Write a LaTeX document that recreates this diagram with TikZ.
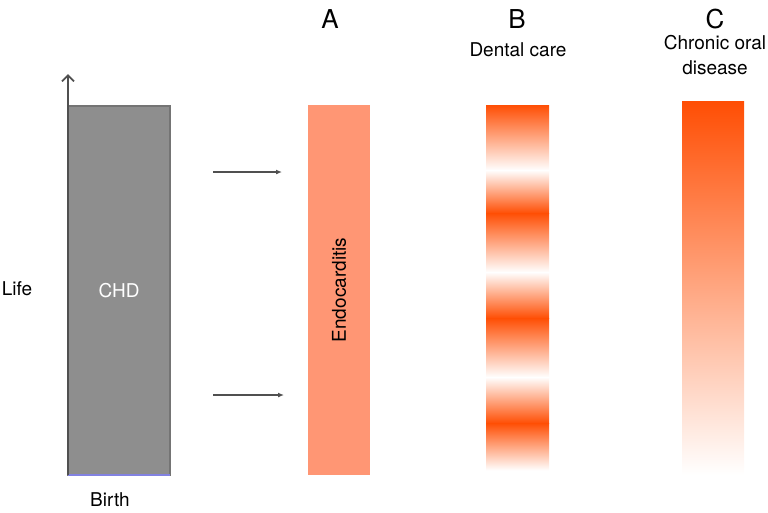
\documentclass[tikz,border=0pt]{standalone}
\usepackage{fontspec}
\setmainfont{TeX Gyre Heros}
\usetikzlibrary{arrows.meta,positioning}
\definecolor{chdgray}{RGB}{142,142,142}
\definecolor{chdedge}{RGB}{116,116,116}
\definecolor{endo}{RGB}{255,150,116}
\definecolor{oral}{RGB}{255,78,4}
\definecolor{axisgray}{RGB}{80,80,80}
\definecolor{birthline}{RGB}{130,130,225}

\tikzset{
  txt/.style={font=\fontsize{19}{25}\selectfont, inner sep=0pt, align=center},
  letter/.style={font=\fontsize{26}{30}\selectfont, inner sep=0pt},
  bar/.style={minimum width=62pt, inner sep=0pt, outer sep=0pt},
  hint/.style={draw=axisgray, line width=1.2pt, -{Latex[length=6pt,width=5pt]}}
}

\begin{document}
\begin{tikzpicture}[x=1pt,y=-1pt]
	\useasboundingbox (0,0) rectangle (768,512);

	% CHD
	\node[bar, txt, minimum width=102pt, minimum height=369pt, fill=chdgray,
		draw=chdedge, line width=1.5pt, text=white] (chd) at (119,290.5) {CHD};
	\draw[birthline, line width=1.5pt] (chd.south west) -- (chd.south east);
	\coordinate (axtop) at (68,74);
	\draw[axisgray, line width=1.8pt, -{Straight Barb[length=6pt,width=12pt]}]
		(chd.south west) -- (axtop);
	\node[txt] (life) at (17,289) {Life};
	\node[txt] (birth) at (110,500) {Birth};

	% fleches
	\coordinate (up1) at (213,172);
	\coordinate (up2) at (282,172);
	\coordinate (lo1) at (213,395);
	\coordinate (lo2) at (284,395);
	\draw[hint] (up1) -- (up2);
	\draw[hint] (lo1) -- (lo2);

	% A
	\node[bar, txt, minimum height=370pt, fill=endo] (endocard) at (339,290)
		{\rotatebox{90}{Endocarditis}};
	\node[letter] (la) at (330,19) {A};

	% B
	\foreach \ya/\yb/\ca/\cb in {105/170/oral/white, 170/213/white/oral,
		213/272/oral/white, 272/318/white/oral, 318/377/oral/white,
		377/423/white/oral, 423/470/oral/white} {
		\shade[top color=\ca, bottom color=\cb] (486,\ya) rectangle (549,\yb+0.4);
	}
	\node[letter] (lb) at (517,19) {B};
	\node[txt] (care) at (518,50) {Dental care};

	% C
	\node[bar, minimum height=374pt, top color=oral, bottom color=white] (oral) at (713,288) {};
	\node[letter] (lc) at (715,19) {C};
	\node[txt] (disease) at (715,55) {Chronic oral\\disease};
\end{tikzpicture}
\end{document}
